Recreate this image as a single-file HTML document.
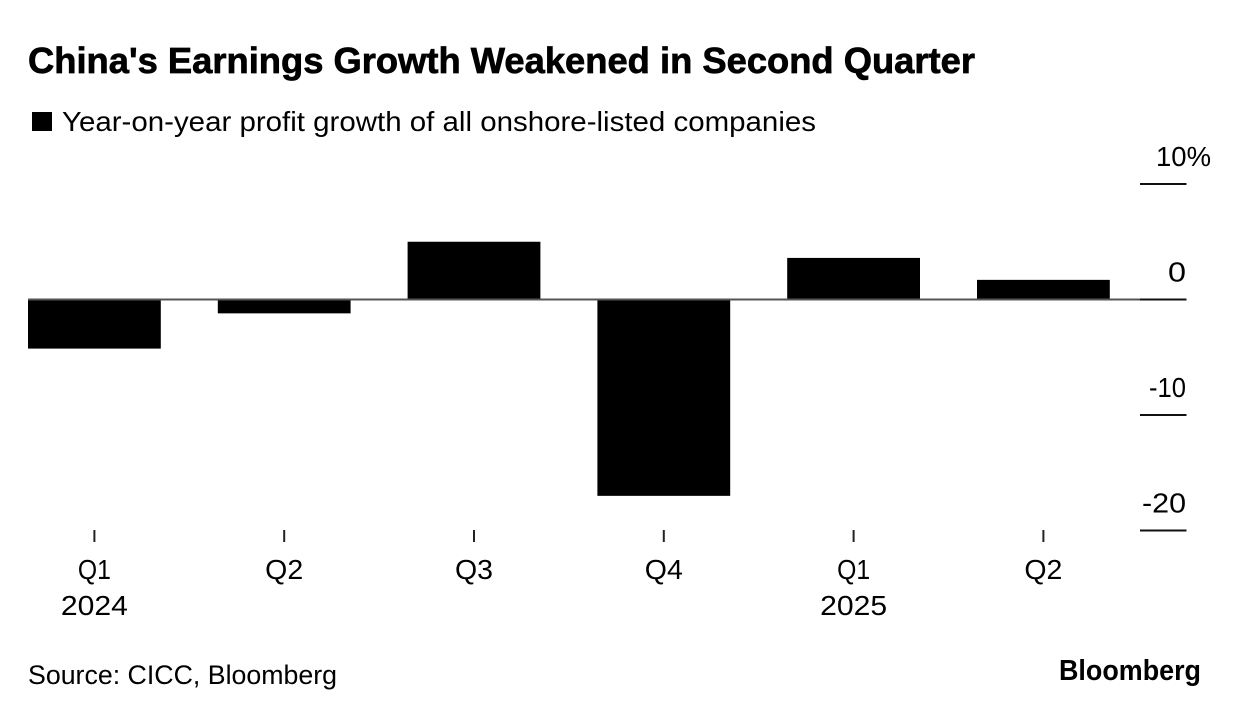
<!DOCTYPE html>
<html lang="en">
<head>
<meta charset="utf-8">
<title>China's Earnings Growth Weakened in Second Quarter</title>
<style>
html,body{margin:0;padding:0;background:#fff;}
svg{display:block;}
text{font-family:"Liberation Sans",Arial,sans-serif;fill:#000;}
</style>
</head>
<body>
<svg id="chart" xmlns="http://www.w3.org/2000/svg" width="1240" height="716" viewBox="0 0 1240 716">
  <rect x="0" y="0" width="1240" height="716" fill="#fff"/>
  <text x="28" y="73" font-size="36" font-weight="700" stroke="#000" stroke-width="0.7" textLength="947" lengthAdjust="spacingAndGlyphs">China's Earnings Growth Weakened in Second Quarter</text>
  <rect x="32" y="112" width="20" height="19" fill="#000"/>
  <text x="62" y="131" font-size="28" textLength="754" lengthAdjust="spacingAndGlyphs">Year-on-year profit growth of all onshore-listed companies</text>
  <g id="bars"></g>
  <g id="y-axis"></g>
  <g id="x-axis"></g>
  <text x="28" y="684" font-size="26.5" textLength="309" lengthAdjust="spacingAndGlyphs">Source: CICC, Bloomberg</text>
  <text x="1059" y="680" font-size="29" font-weight="700" textLength="142" lengthAdjust="spacingAndGlyphs">Bloomberg</text>
</svg>
<script>
const categories = ['Q1', 'Q2', 'Q3', 'Q4', 'Q1', 'Q2'];
const years = ['2024', '', '', '', '2025', ''];
const profitGrowth = [-4.25, -1.2, 5.0, -17.0, 3.6, 1.7];
const yTicks = [10, 0, -10, -20];
const yTickLabels = ['10%', '0', '-10', '-20'];

const NS = 'http://www.w3.org/2000/svg';
const glyphFit = { '10%': 55, '0': 18, '-10': 37, '-20': 44, 'Q1': 33, 'Q2': 38, 'Q3': 38, 'Q4': 38, '2024': 67, '2025': 67 };
function yScale(v) { return 299.5 - v * 11.55; }
function xBandStart(i) { return 28 + i * 189.8; }
const bandWidth = 132.8;
function xCenter(i) { return xBandStart(i) + bandWidth / 2; }
function make(parent, tag, attrs, txt) {
  const el = document.createElementNS(NS, tag);
  for (const k in attrs) el.setAttribute(k, attrs[k]);
  if (txt !== undefined) {
    el.textContent = txt;
    if (glyphFit[txt]) {
      el.setAttribute('textLength', glyphFit[txt]);
      el.setAttribute('lengthAdjust', 'spacingAndGlyphs');
    }
  }
  parent.appendChild(el);
  return el;
}

const barsG = document.getElementById('bars');
profitGrowth.forEach(function (v, i) {
  const top = Math.min(yScale(v), yScale(0));
  const h = Math.abs(yScale(v) - yScale(0));
  const r = make(barsG, 'rect', { x: xBandStart(i), y: top, width: bandWidth, height: h, fill: '#000' });
  
  
});

const yG = document.getElementById('y-axis');
const baseline = make(yG, 'line', { x1: 28, x2: 1140, y1: yScale(0), y2: yScale(0), stroke: '#555', 'stroke-width': 2 });


yTicks.forEach(function (t, i) {
  const y = yScale(t);
  const l = make(yG, 'line', { x1: 1140, x2: 1186.5, y1: y, y2: y, stroke: '#111', 'stroke-width': 2 });
  
  
  const anchorX = i === 0 ? 1211 : 1186;
  const lab = make(yG, 'text', { x: anchorX, y: y - 18, 'font-size': 28, 'text-anchor': 'end' }, yTickLabels[i]);
  
  
});

const xG = document.getElementById('x-axis');
categories.forEach(function (c, i) {
  const x = xCenter(i);
  const tick = make(xG, 'line', { x1: x, x2: x, y1: 530, y2: 542, stroke: '#222', 'stroke-width': 2 });
  
  
  const lab = make(xG, 'text', { x: x, y: 579, 'font-size': 28, 'text-anchor': 'middle' }, c);
  
  
  if (years[i]) {
    const yr = make(xG, 'text', { x: x, y: 615, 'font-size': 28, 'text-anchor': 'middle' }, years[i]);
    
    
  }
});
</script>
</body>
</html>
